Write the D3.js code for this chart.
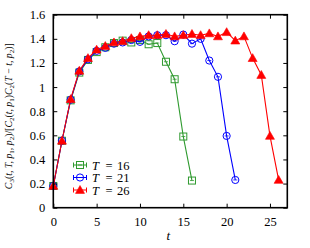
<!DOCTYPE html>
<html lang="en">
<head>
  <meta charset="UTF-8">
  <title>C3 ratio</title>
  <script src="https://d3js.org/d3.v7.min.js"></script>
  <style>
    body { margin: 0; background: #fff; }
    text { font-family: "Liberation Serif", "DejaVu Serif", serif; }
  </style>
</head>
<body>
  <script>
    var green16 = [0.18, 0.555, 0.89, 1.12, 1.225, 1.29, 1.33, 1.365, 1.385, 1.37, 1.39, 1.355, 1.365, 1.21, 1.065, 0.59, 0.225];
    var blue21 = [0.18, 0.555, 0.895, 1.13, 1.23, 1.30, 1.325, 1.36, 1.37, 1.39, 1.375, 1.42, 1.43, 1.43, 1.38, 1.435, 1.36, 1.40, 1.22, 1.085, 0.595, 0.23];
    var red26 = [0.18, 0.555, 0.90, 1.135, 1.24, 1.31, 1.34, 1.37, 1.38, 1.405, 1.42, 1.43, 1.43, 1.44, 1.42, 1.43, 1.44, 1.43, 1.445, 1.42, 1.455, 1.385, 1.42, 1.24, 1.10, 0.595, 0.23];
    var labels = ["16", "21", "26"];
    var xTicks = [0, 5, 10, 15, 20, 25];
    var yTicks = [0, 0.2, 0.4, 0.6, 0.8, 1, 1.2, 1.4, 1.6];

    var w = 310, h = 248;
    var padL = 53.3, padR = 287.3, padT = 14.7, padB = 207.7;

    var series = [
      { vals: green16, color: "#2f9a2f", shape: "square", name: labels[0] },
      { vals: blue21, color: "#0000ff", shape: "circle", name: labels[1] },
      { vals: red26, color: "#ff0000", shape: "triangle", name: labels[2] }
    ];

    var x = d3.scaleLinear().domain([0, 27]).range([padL, padR]);
    var y = d3.scaleLinear().domain([0, 1.6]).range([padB, padT]);

    var svg = d3.select("body").append("svg")
      .attr("width", w).attr("height", h);

    function drawMarker(g, shape, color, cx, cy) {
      if (shape === "square") {
        g.append("rect").attr("x", cx - 3.5).attr("y", cy - 3.5)
          .attr("width", 7).attr("height", 7)
          .attr("fill", "none").attr("stroke", color).attr("stroke-width", 1);
        g.append("line").attr("x1", cx - 2).attr("x2", cx + 2).attr("y1", cy).attr("y2", cy)
          .attr("stroke", color).attr("stroke-width", 0.8);
      } else if (shape === "circle") {
        g.append("circle").attr("cx", cx).attr("cy", cy).attr("r", 3.6)
          .attr("fill", "none").attr("stroke", color).attr("stroke-width", 1);
        g.append("line").attr("x1", cx - 2).attr("x2", cx + 2).attr("y1", cy).attr("y2", cy)
          .attr("stroke", color).attr("stroke-width", 0.8);
      } else {
        var s = 4.5;
        g.append("path")
          .attr("d", "M" + cx + "," + (cy - s) + "L" + (cx + s) + "," + (cy + s * 0.75) + "L" + (cx - s) + "," + (cy + s * 0.75) + "Z")
          .attr("fill", color).attr("stroke", color).attr("stroke-width", 0.6);
      }
    }

    var line = d3.line()
      .x(function(d, i) { return x(i); })
      .y(function(d) { return y(d); });

    series.forEach(function(s) {
      svg.append("path").datum(s.vals)
        .attr("d", line)
        .attr("fill", "none")
        .attr("stroke", s.color)
        .attr("stroke-width", 1.1);
      var g = svg.append("g");
      s.vals.forEach(function(v, i) {
        drawMarker(g, s.shape, s.color, x(i), y(v));
      });
    });

    // axes, ticks inside on all sides
    var axB = svg.append("g").attr("transform", "translate(0," + padB + ")")
      .call(d3.axisBottom(x).tickValues(xTicks).tickSizeInner(-4).tickSizeOuter(0).tickPadding(9).tickFormat(d3.format("d")));
    var axT = svg.append("g").attr("transform", "translate(0," + padT + ")")
      .call(d3.axisTop(x).tickValues(xTicks).tickSizeInner(-4).tickSizeOuter(0).tickFormat(""));
    var axL = svg.append("g").attr("transform", "translate(" + padL + ",0)")
      .call(d3.axisLeft(y).tickValues(yTicks).tickSizeInner(-4).tickSizeOuter(0).tickPadding(8)
        .tickFormat(function(d) { return String(+d.toFixed(1)); }));
    var axR = svg.append("g").attr("transform", "translate(" + padR + ",0)")
      .call(d3.axisRight(y).tickValues(yTicks).tickSizeInner(-4).tickSizeOuter(0).tickFormat(""));

    [axB, axT, axL, axR].forEach(function(a) {
      a.select(".domain").remove();
      a.selectAll(".tick line").attr("stroke", "#000").attr("stroke-width", 1);
      a.selectAll("text").attr("font-family", "Liberation Serif, serif").attr("font-size", 12.5).attr("fill", "#000");
    });

    svg.append("rect")
      .attr("x", padL).attr("y", padT)
      .attr("width", padR - padL).attr("height", padB - padT)
      .attr("fill", "none").attr("stroke", "#000").attr("stroke-width", 1.6);

    // axis labels
    svg.append("text")
      .attr("x", x(13.5) - 2).attr("y", 240)
      .attr("text-anchor", "middle")
      .attr("font-size", 13).attr("font-style", "italic")
      .text("t");

    var yl = svg.append("text")
      .attr("transform", "translate(12," + ((padT + padB) / 2 + 5) + ") rotate(-90)")
      .attr("text-anchor", "middle")
      .attr("font-size", 9.8);
    function part(txt, italic, sub) {
      var ts = yl.append("tspan").text(txt);
      if (italic) ts.attr("font-style", "italic");
      if (sub) ts.attr("font-size", 7).attr("dy", 2);
      return ts;
    }
    part("C", true); part("3", false, true);
    part("(", false).attr("dy", -2); part("t, T, p", true); part("1", false, true);
    part(", ", false).attr("dy", -2); part("p", true); part("2", false, true);
    part(")/[", false).attr("dy", -2); part("C", true); part("2", false, true);
    part("(", false).attr("dy", -2); part("t, p", true); part("1", false, true);
    part(")", false).attr("dy", -2); part("C", true); part("2", false, true);
    part("(", false).attr("dy", -2); part("T", true); part(" \u2212 ", false);
    part("t, p", true); part("2", false, true);
    part(")]", false).attr("dy", -2);

    // legend
    var lg = svg.append("g");
    series.forEach(function(s, i) {
      var ly = 165 + i * 12.5;
      lg.append("line").attr("x1", 73.5).attr("x2", 86.5).attr("y1", ly).attr("y2", ly)
        .attr("stroke", s.color).attr("stroke-width", 1);
      lg.append("line").attr("x1", 73.5).attr("x2", 73.5).attr("y1", ly - 2.5).attr("y2", ly + 2.5)
        .attr("stroke", s.color).attr("stroke-width", 1);
      lg.append("line").attr("x1", 86.5).attr("x2", 86.5).attr("y1", ly - 2.5).attr("y2", ly + 2.5)
        .attr("stroke", s.color).attr("stroke-width", 1);
      drawMarker(lg, s.shape, s.color, 80, ly);
      lg.append("text").attr("x", 92).attr("y", ly + 4.5).attr("font-size", 12.5)
        .attr("font-style", "italic").text("T");
      lg.append("text").attr("x", 105.5).attr("y", ly + 4.5).attr("font-size", 12.5).text("=");
      lg.append("text").attr("x", 117).attr("y", ly + 4.5).attr("font-size", 12.5).text(s.name);
    });
  </script>
</body>
</html>
